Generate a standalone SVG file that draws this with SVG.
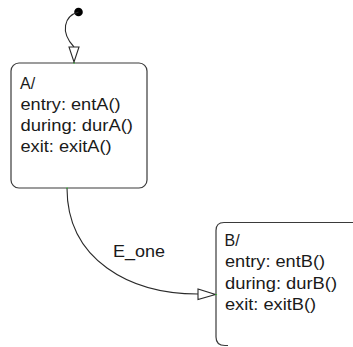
<svg xmlns="http://www.w3.org/2000/svg" width="353" height="347" viewBox="0 0 353 347">
<style>
.box{fill:none;stroke:#3a3a3a;stroke-width:1.2}
.edge{fill:none;stroke:#2a2a2a;stroke-width:1.1}
.head{fill:#fff;stroke:#2a2a2a;stroke-width:1.1;stroke-linejoin:miter}
.t{font-family:"Liberation Sans",Arial,sans-serif;font-size:16px;fill:#1a1a1a}
.jn{fill:#3c3}
</style>
<rect width="353" height="347" fill="#fff"/>
<g id="connectors">
<g id="init">
<circle cx="78.5" cy="12" r="4.3" fill="#000"/>
<path class="edge" d="M78.5,12 C64,16 60,32 74,47"/>
<polygon class="head" points="69,47 79,47 74,62"/>
<line class="edge" x1="74" y1="62" x2="74" y2="63"/>
</g>
<g id="e_one">
<path class="edge" d="M67,188 C67,260 130,294 198,294"/>
<polygon class="head" points="198,289 198,299.5 215.5,294.5"/>
<text class="t" x="113" y="257" textLength="52" lengthAdjust="spacingAndGlyphs">E_one</text>
</g>
</g>
<g id="stateA">
<rect class="box" x="11" y="63" width="136" height="125" rx="8" ry="8"/>
<text class="t" x="20" y="88.5">A/</text>
<text class="t" x="20.5" y="109.5" textLength="100" lengthAdjust="spacingAndGlyphs">entry: entA()</text>
<text class="t" x="20.5" y="130.5" textLength="112.5" lengthAdjust="spacingAndGlyphs">during: durA()</text>
<text class="t" x="20.5" y="151.5" textLength="91" lengthAdjust="spacingAndGlyphs">exit: exitA()</text>
</g>
<g id="stateB">
<path class="box" d="M354,222.5 H224 Q216,222.5 216,230.5 V337 Q216,345.5 225,345.5 H228"/>
<text class="t" x="224.5" y="245.5">B/</text>
<text class="t" x="225" y="267" textLength="100" lengthAdjust="spacingAndGlyphs">entry: entB()</text>
<text class="t" x="225" y="288.5" textLength="112" lengthAdjust="spacingAndGlyphs">during: durB()</text>
<text class="t" x="225" y="310" textLength="91" lengthAdjust="spacingAndGlyphs">exit: exitB()</text>
</g>
<g id="junctions">
<rect class="jn" x="73.5" y="62.5" width="1.2" height="1.2"/>
<rect class="jn" x="66.5" y="187.5" width="1.2" height="1.2"/>
<rect class="jn" x="215.5" y="294" width="1.2" height="1.2"/>
</g>
</svg>
